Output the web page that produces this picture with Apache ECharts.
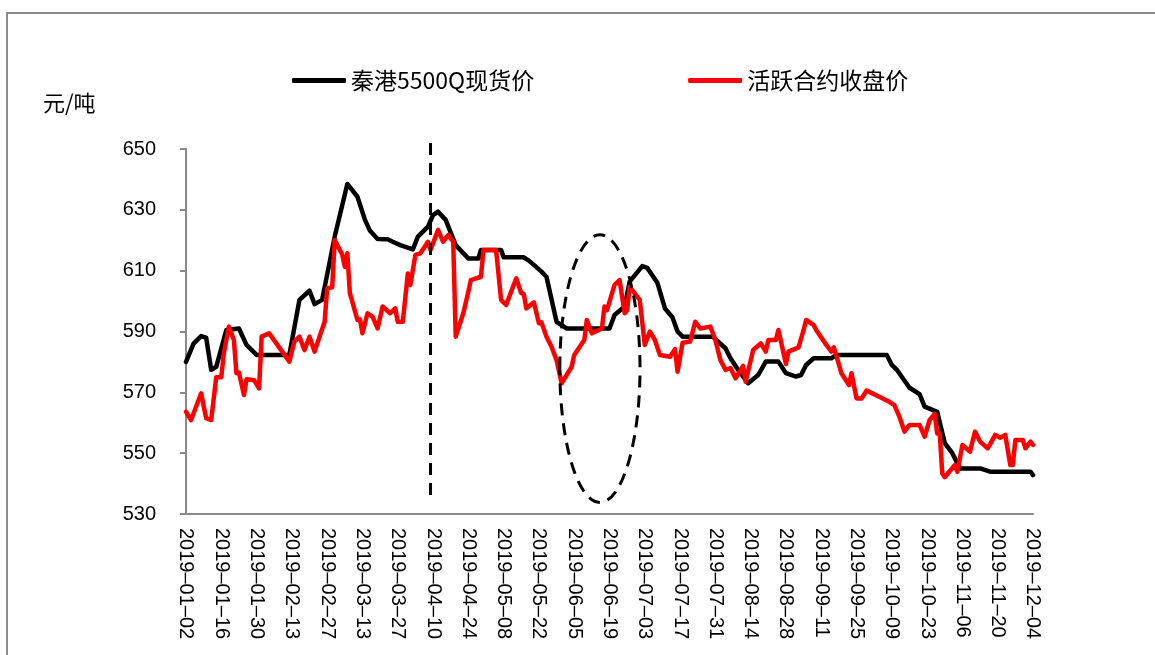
<!DOCTYPE html>
<html>
<head>
<meta charset="utf-8">
<script src="https://cdn.jsdelivr.net/npm/echarts@6/dist/echarts.min.js"></script>
<style>
  html, body { margin: 0; padding: 0; background: #fff; }
  #c { width: 1155px; height: 655px; }
</style>
</head>
<body>
<div id="c"></div>
<script>
// 秦港5500Q现货价 (spot price, 元/吨)
const spotDates = [
  '2019-01-02','2019-01-05','2019-01-08','2019-01-10','2019-01-12','2019-01-14','2019-01-18','2019-01-23',
  '2019-01-26','2019-01-30','2019-02-12','2019-02-16','2019-02-20','2019-02-22','2019-02-25','2019-03-02',
  '2019-03-07','2019-03-11','2019-03-14','2019-03-16','2019-03-19','2019-03-23','2019-03-25','2019-03-28',
  '2019-04-02','2019-04-04','2019-04-08','2019-04-10','2019-04-12','2019-04-15','2019-04-19','2019-04-24',
  '2019-04-28','2019-04-29','2019-05-07','2019-05-08','2019-05-16','2019-05-18','2019-05-20','2019-05-23',
  '2019-05-25','2019-05-29','2019-06-02','2019-06-19','2019-06-21','2019-06-25','2019-06-27','2019-07-02',
  '2019-07-04','2019-07-08','2019-07-11','2019-07-14','2019-07-16','2019-07-18','2019-07-30','2019-08-01',
  '2019-08-04','2019-08-06','2019-08-09','2019-08-13','2019-08-17','2019-08-20','2019-08-25','2019-08-28',
  '2019-09-01','2019-09-03','2019-09-05','2019-09-08','2019-09-15','2019-09-17','2019-10-07','2019-10-09',
  '2019-10-11','2019-10-16','2019-10-20','2019-10-22','2019-10-27','2019-10-30','2019-11-02','2019-11-05',
  '2019-11-13','2019-11-17','2019-12-03','2019-12-04'
];
const spotPrices = [
  580, 586, 588.5, 588, 577.4, 578.4, 590.5, 591,
  585.6, 582.3, 582.3, 600.4, 603.4, 599, 600.4, 621.2,
  638.5, 634.3, 626.7, 623.1, 620.4, 620.3, 619.5, 618.4,
  617, 621.2, 624.5, 628.3, 629.4, 626.7, 618.4, 614,
  614, 616.8, 616.8, 614.4, 614.4, 613.3, 611.9, 609.7,
  608, 593.2, 591, 591, 595.4, 598.2, 606.4, 611.5,
  610.9, 606, 597.6, 594.6, 590, 588.3, 588.3, 586.7,
  584.5, 581.2, 577.4, 573, 575.7, 580.1, 580.1, 576.3,
  575.2, 575.7, 579, 581.2, 581.2, 582.3, 582.3, 579,
  577.4, 571.5, 569.4, 565.3, 563.6, 553.3, 550, 545,
  545, 543.9, 543.9, 542.8
];

// 活跃合约收盘价 (most-active contract close, 元/吨)
const futDates = [
  '2019-01-02','2019-01-04','2019-01-08','2019-01-10','2019-01-12','2019-01-14','2019-01-16','2019-01-17',
  '2019-01-19','2019-01-21','2019-01-22','2019-01-23','2019-01-25','2019-01-26','2019-01-29','2019-01-31',
  '2019-02-01','2019-02-04','2019-02-12','2019-02-14','2019-02-16','2019-02-18','2019-02-20','2019-02-22',
  '2019-02-26','2019-02-27','2019-03-01','2019-03-02','2019-03-05','2019-03-06','2019-03-07','2019-03-08',
  '2019-03-11','2019-03-12','2019-03-13','2019-03-15','2019-03-17','2019-03-19','2019-03-21','2019-03-24',
  '2019-03-26','2019-03-27','2019-03-29','2019-03-31','2019-04-01','2019-04-03','2019-04-05','2019-04-08',
  '2019-04-09','2019-04-12','2019-04-14','2019-04-16','2019-04-18','2019-04-19','2019-04-22','2019-04-24',
  '2019-04-25','2019-04-29','2019-04-30','2019-05-05','2019-05-07','2019-05-09','2019-05-13','2019-05-15',
  '2019-05-16','2019-05-17','2019-05-20','2019-05-22','2019-05-23','2019-05-25','2019-05-27','2019-05-29',
  '2019-05-31','2019-06-02','2019-06-04','2019-06-05','2019-06-09','2019-06-10','2019-06-12','2019-06-16',
  '2019-06-17','2019-06-18','2019-06-21','2019-06-23','2019-06-25','2019-06-26','2019-06-27','2019-07-01',
  '2019-07-03','2019-07-05','2019-07-07','2019-07-09','2019-07-13','2019-07-15','2019-07-16','2019-07-18',
  '2019-07-21','2019-07-23','2019-07-25','2019-07-29','2019-07-31','2019-08-02','2019-08-04','2019-08-06',
  '2019-08-08','2019-08-11','2019-08-12','2019-08-15','2019-08-18','2019-08-20','2019-08-21','2019-08-24',
  '2019-08-25','2019-08-28','2019-08-29','2019-09-02','2019-09-04','2019-09-05','2019-09-08','2019-09-09',
  '2019-09-13','2019-09-15','2019-09-16','2019-09-19','2019-09-22','2019-09-23','2019-09-25','2019-09-27',
  '2019-09-29','2019-10-08','2019-10-10','2019-10-12','2019-10-14','2019-10-16','2019-10-20','2019-10-22',
  '2019-10-24','2019-10-26','2019-10-27','2019-10-28','2019-10-29','2019-10-30','2019-11-03','2019-11-04',
  '2019-11-06','2019-11-09','2019-11-11','2019-11-13','2019-11-16','2019-11-17','2019-11-19','2019-11-21',
  '2019-11-23','2019-11-25','2019-11-26','2019-11-27','2019-11-30','2019-12-01','2019-12-03','2019-12-04'
];
const futPrices = [
  563.6, 560.9, 569.7, 561.5, 560.9, 575, 575, 582.8,
  591.6, 587.2, 576.3, 576.5, 569.1, 574.3, 574, 571.3,
  588.3, 589.4, 580.1, 586.7, 588.3, 583.9, 588.3, 583.4,
  593.2, 604.2, 604.5, 620.1, 615.2, 611.3, 615.7, 602.6,
  593.8, 594, 589.4, 596, 594.9, 591, 598.2, 596,
  597.6, 593.2, 593.2, 609.1, 605.3, 615.2, 615.7, 619.5,
  616.8, 623.4, 619.5, 621.7, 619.5, 588.3, 596, 603.1,
  606.9, 608, 616.8, 616.8, 600.4, 598.7, 607.5, 602.6,
  602.3, 597.6, 599.6, 592.7, 593, 588.3, 585, 580.6,
  573, 575.7, 578.4, 582.3, 587.2, 593.8, 589.4, 591,
  598.2, 597, 605.3, 606.9, 596, 597, 604.7, 600.4,
  585.6, 590, 587.2, 582.3, 581.7, 584.2, 576.8, 586.3,
  586.7, 593.2, 591, 591.6, 587.2, 580.6, 577.4, 578,
  574.6, 578.7, 573.5, 583.9, 586.1, 583.4, 587.2, 587.2,
  590.5, 579.3, 583.4, 584.8, 590.5, 593.8, 592.1, 590.5,
  585.6, 583.4, 584.8, 576.3, 572.4, 576.3, 568, 568,
  570.6, 566.9, 565.8, 562, 557.1, 559.3, 559.3, 555.4,
  560.9, 562.9, 556.5, 556.5, 543.4, 542.1, 546.1, 543.9,
  552.7, 550.5, 557.1, 553.8, 551.6, 553, 556, 555.1,
  556, 546.1, 546.1, 554.3, 554.3, 551.6, 553.8, 552.7
];

const seriesNames = ['秦港5500Q现货价', '活跃合约收盘价'];
const unitLabel = '元/吨';
const axisStart = '2019-01-02';
const axisEnd = '2019-12-04';
const labelStepDays = 14;
const yMin = 530, yMax = 650, yStep = 20;

const DAY = 86400000;
function toUTC(s) {
  const p = s.split('-').map(Number);
  return Date.UTC(p[0], p[1] - 1, p[2]);
}
const t0 = toUTC(axisStart);
function dayOffset(s) { return Math.round((toUTC(s) - t0) / DAY); }
function pad(n) { return (n < 10 ? '0' : '') + n; }
function dayLabel(n) {
  const t = new Date(t0 + n * DAY);
  return t.getUTCFullYear() + '–' + pad(t.getUTCMonth() + 1) + '–' + pad(t.getUTCDate());
}
function pairs(dates, vals) { return dates.map((d, i) => [dayOffset(d), vals[i]]); }

const chart = echarts.init(document.getElementById('c'), null, { renderer: 'canvas' });
const latin = '"Liberation Sans", Arial, sans-serif';
const cjk = '"Noto Sans CJK SC", sans-serif';

chart.setOption({
  animation: false,
  backgroundColor: '#fff',
  grid: { left: 186, right: 122, top: 149, bottom: 141, containLabel: false },
  legend: {
    left: 287, top: 64,
    itemWidth: 54, itemHeight: 5, itemGap: 154,
    icon: 'roundRect',
    textStyle: { fontFamily: cjk, fontSize: 23, color: '#000', padding: [0, 0, 0, 0] },
    data: seriesNames
  },
  xAxis: {
    type: 'value',
    min: 0,
    max: dayOffset(axisEnd),
    interval: labelStepDays,
    axisLine: { show: true, lineStyle: { color: '#898989', width: 2 } },
    axisTick: { show: false },
    splitLine: { show: false },
    axisLabel: {
      rotate: -90,
      margin: 14,
      fontFamily: latin,
      fontSize: 20,
      color: '#000',
      formatter: v => dayLabel(v)
    }
  },
  yAxis: {
    type: 'value',
    min: yMin, max: yMax, interval: yStep,
    axisLine: { show: true, lineStyle: { color: '#898989', width: 2 } },
    axisTick: { show: true, inside: false, length: 6, lineStyle: { color: '#898989', width: 2 } },
    splitLine: { show: false },
    axisLabel: { margin: 30, fontFamily: latin, fontSize: 20, color: '#000' }
  },
  series: [
    {
      name: seriesNames[0], type: 'line', showSymbol: false, symbol: 'none',
      data: pairs(spotDates, spotPrices),
      lineStyle: { color: '#000', width: 4.5, join: 'round', cap: 'round' },
      itemStyle: { color: '#000' }, z: 2
    },
    {
      name: seriesNames[1], type: 'line', showSymbol: false, symbol: 'none',
      data: pairs(futDates, futPrices),
      lineStyle: { color: '#ff0000', width: 4.5, join: 'round', cap: 'round' },
      itemStyle: { color: '#ff0000' }, z: 3
    }
  ]
});

// Annotations: dashed marker on 2019-04-09 and a dashed ellipse around the June dip
function px(day, val) { return chart.convertToPixel({ gridIndex: 0 }, [day, val]); }
const vTop = px(dayOffset('2019-04-09'), 652);
const vBot = px(dayOffset('2019-04-09'), 534);
const ec = px(164.2, 577.8);
const ex = px(164.2 + 15.9, 577.8);
const ey = px(164.2, 577.8 + 44);
const dash = { stroke: '#000', lineWidth: 3, lineDash: [12, 8], fill: 'none' };

chart.setOption({
  graphic: [
    {
      type: 'rect', silent: true,
      shape: { x: 7, y: 13, width: 1300, height: 800 },
      style: { fill: 'none', stroke: '#8c8c8c', lineWidth: 2 }
    },
    {
      type: 'text', left: 43, top: 92, silent: true,
      style: { text: unitLabel, fontFamily: cjk, fontSize: 22, fill: '#000' }
    },
    {
      type: 'line', silent: true, z: 10,
      shape: { x1: vTop[0], y1: vTop[1], x2: vBot[0], y2: vBot[1] },
      style: dash
    },
    {
      type: 'ellipse', silent: true, z: 10,
      shape: { cx: ec[0], cy: ec[1], rx: ex[0] - ec[0], ry: ec[1] - ey[1] },
      style: dash
    }
  ]
});
</script>
</body>
</html>
